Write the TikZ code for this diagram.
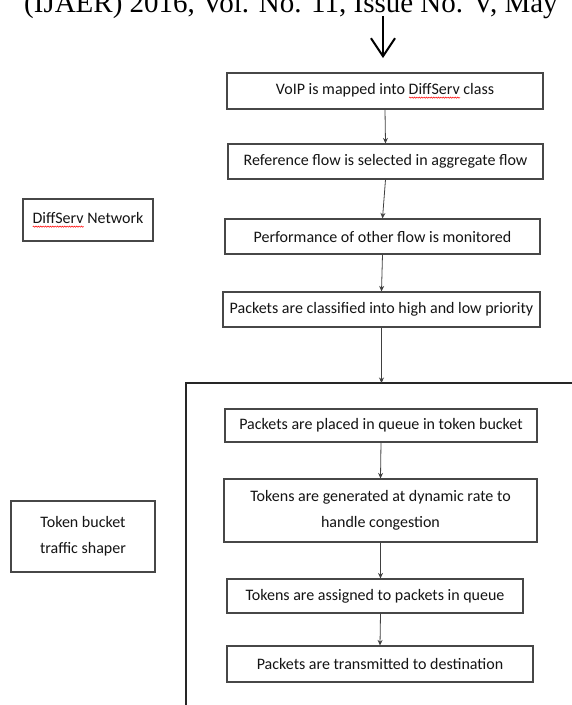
\documentclass[tikz,border=0pt]{standalone}
\usepackage{fontspec}
\setmainfont{Carlito}
\newfontfamily\headfont{Liberation Serif}
\usetikzlibrary{arrows.meta,shadows,decorations.pathmorphing}
% Red spell-check wave under a word
\newsavebox\wordbox
\newlength\wordlen
\newcommand\spellerr[1]{\sbox\wordbox{#1}\setlength\wordlen{\wd\wordbox}%
  \rlap{\raisebox{-3pt}{\tikz[baseline=0pt]\draw[red,line width=0.5pt,decorate,
    decoration={snake,amplitude=0.6pt,segment length=2.4pt}] (0pt,0pt) -- (\wordlen,0pt);}}%
  \usebox\wordbox}
\begin{document}
\begin{tikzpicture}[x=1pt,y=-1pt,
    stage/.style={draw=black!72,line width=1.2pt,fill=white,text=black!92,
      align=center,inner sep=2pt,font=\fontsize{16}{26}\selectfont,
      drop shadow={shadow xshift=1pt,shadow yshift=-1pt,opacity=0.25}},
    flow/.style={draw=black!75,line width=0.8pt,-{Stealth[length=5.5pt,width=5pt]}},
    frame/.style={draw=black!85,line width=1.5pt}]
  \useasboundingbox (0,0) rectangle (572,705);
  \clip (0,0) rectangle (572,705);

  % Page header, cut at the top
  \node[anchor=base west,inner sep=0pt,font=\headfont\fontsize{29}{30}\selectfont]
    (head) at (24,12) {(IJAER) 2016, Vol. No. 11, Issue No. V, May};

  % Input arrow
  \coordinate (in) at (383,16);
  \coordinate (tip) at (383,58);
  \draw[line width=2pt,-{Straight Barb[length=18pt,width=24pt]}] (in) -- (tip);

  % DiffServ stages
  \node[stage,minimum width=316pt,minimum height=36pt] (voip) at (385,91)
    {VoIP is mapped into \spellerr{DiffServ} class};
  \node[stage,minimum width=315pt,minimum height=35pt] (ref) at (385.5,161.5)
    {Reference flow is selected in aggregate flow};
  \node[stage,minimum width=315pt,minimum height=35pt] (perf) at (382.5,236.5)
    {Performance of other flow is monitored};
  \node[stage,minimum width=317pt,minimum height=35pt] (class) at (381.5,309.5)
    {Packets are classified into high and low priority};
  \node[stage,minimum width=130pt,minimum height=42pt] (diff) at (88,220)
    {\spellerr{DiffServ} Network};

  % Token bucket frame
  \coordinate (fr) at (572,383);
  \coordinate (fc) at (186,383);
  \coordinate (fb) at (186,705);
  \draw[frame] (fr) -- (fc) -- (fb);

  % Shaper stages
  \node[stage,minimum width=312pt,minimum height=33pt] (queue) at (381,425.5)
    {Packets are placed in queue in token bucket};
  \node[stage,minimum width=313pt,minimum height=63pt] (gen) at (380.5,510.5)
    {Tokens are generated at dynamic rate to\\handle congestion};
  \node[stage,minimum width=296pt,minimum height=34pt] (assign) at (375,596)
    {Tokens are assigned to packets in queue};
  \node[stage,minimum width=306pt,minimum height=36pt] (send) at (380,664)
    {Packets are transmitted to destination};
  \node[stage,minimum width=144pt,minimum height=71pt] (tbs) at (83,536.5)
    {Token bucket\\traffic shaper};

  % Arrows
  \draw[flow] (voip.south) -- (ref.north);
  \draw[flow] (ref.south) -- (perf.north);
  \draw[flow] (perf.south) -- (class.north);
  \draw[flow] (class.south) -- (class.south |- fc);
  \draw[flow] (queue.south) -- (gen.north);
  \draw[flow] (gen.south) -- (gen.south |- assign.north);
  \draw[flow] (gen.south |- assign.south) -- (send.north);
\end{tikzpicture}
\end{document}
